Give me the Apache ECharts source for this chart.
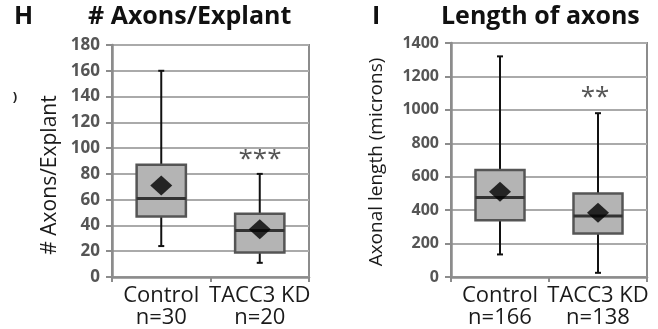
<!DOCTYPE html>
<html>
<head>
<meta charset="utf-8">
<script src="https://cdn.jsdelivr.net/npm/echarts@6/dist/echarts.min.js"></script>
<style>
  html, body { margin: 0; padding: 0; background: #fff; }
  #main { width: 658px; height: 329px; }
</style>
</head>
<body>
<div id="main"></div>
<script>
var categories = ['Control', 'TACC3 KD'];
var countsN = ['n=30', 'n=20'];
var lengthN = ['n=166', 'n=138'];
// [min, q1, median, q3, max]
var axonCountBoxes = [[24, 47, 61, 87, 160], [11, 19, 36, 49, 80]];
var axonCountMeans = [71, 37];
var axonLengthBoxes = [[135, 340, 475, 640, 1320], [25, 260, 365, 500, 980]];
var axonLengthMeans = [510, 385];
var countTicks = [0, 180, 20];
var lengthTicks = [0, 1400, 200];

var FONT = 'Open Sans';
var myChart = echarts.init(document.getElementById('main'));

function renderBox(params, api) {
    var x = api.value(0);
    var lo = api.coord([x, api.value(1)]);
    var q1 = api.coord([x, api.value(2)]);
    var med = api.coord([x, api.value(3)]);
    var q3 = api.coord([x, api.value(4)]);
    var hi = api.coord([x, api.value(5)]);
    var w = api.size([1, 0])[0] * 0.5;
    var cx = lo[0];
    var cap = 3;
    var lineStyle = { stroke: '#111', lineWidth: 2 };
    return {
        type: 'group',
        children: [
            { type: 'line', shape: { x1: cx, y1: hi[1], x2: cx, y2: q3[1] }, style: lineStyle },
            { type: 'line', shape: { x1: cx, y1: q1[1], x2: cx, y2: lo[1] }, style: lineStyle },
            { type: 'line', shape: { x1: cx - cap, y1: hi[1], x2: cx + cap, y2: hi[1] }, style: lineStyle },
            { type: 'line', shape: { x1: cx - cap, y1: lo[1], x2: cx + cap, y2: lo[1] }, style: lineStyle },
            { type: 'rect', shape: { x: cx - w / 2, y: q3[1], width: w, height: q1[1] - q3[1] },
              style: { fill: '#b4b4b4', stroke: '#555', lineWidth: 2.5 } },
            { type: 'line', shape: { x1: cx - w / 2, y1: med[1], x2: cx + w / 2, y2: med[1] },
              style: { stroke: '#333', lineWidth: 3 } }
        ]
    };
}

function boxData(boxes) {
    return boxes.map(function (b, i) { return [i].concat(b); });
}

function xAxisFor(idx, nLabels) {
    return {
        type: 'category', gridIndex: idx, data: categories,
        axisLine: { lineStyle: { color: '#8c8c8c', width: 2.5 } },
        axisTick: { show: true, length: 5, alignWithLabel: false, lineStyle: { color: '#8c8c8c', width: 2 } },
        axisLabel: {
            interval: 0, margin: 8, color: '#1a1a1a', fontFamily: FONT, fontSize: 22, lineHeight: 22,
            formatter: function (v, i) { return v + '\n' + nLabels[i]; }
        }
    };
}

function yAxisFor(idx, ticks, fontSize) {
    return {
        type: 'value', gridIndex: idx, min: ticks[0], max: ticks[1], interval: ticks[2],
        axisLine: { show: true, lineStyle: { color: '#8c8c8c', width: 2.5 } },
        axisTick: { show: true, length: 6, lineStyle: { color: '#8c8c8c', width: 2 } },
        axisLabel: { margin: 12, color: '#555', fontFamily: FONT, fontSize: fontSize, fontWeight: 'bold',
                     formatter: function (v) { return String(v); } },
        splitLine: { lineStyle: { color: '#aaa', width: 2 } }
    };
}

myChart.setOption({
    animation: false,
    grid: [
        { left: 112, right: 349, top: 45, bottom: 52, show: true, borderColor: '#8c8c8c', borderWidth: 2 },
        { left: 451, right: 11, top: 43, bottom: 51, show: true, borderColor: '#8c8c8c', borderWidth: 2 }
    ],
    xAxis: [xAxisFor(0, countsN), xAxisFor(1, lengthN)],
    yAxis: [yAxisFor(0, countTicks, 17), yAxisFor(1, lengthTicks, 16)],
    graphic: [
        { type: 'text', left: 14, top: 4, style: { text: 'H', font: 'bold 25px "Open Sans"', fill: '#111' } },
        { type: 'text', left: 88, top: 4, style: { text: '# Axons/Explant', font: 'bold 25px "Open Sans"', fill: '#111' } },
        { type: 'text', left: 372, top: 4, style: { text: 'I', font: 'bold 25px "Open Sans"', fill: '#111' } },
        { type: 'text', left: 441, top: 4, style: { text: 'Length of axons', font: 'bold 25px "Open Sans"', fill: '#111' } },
        { type: 'text', x: 50, y: 175, rotation: Math.PI / 2,
          style: { text: '# Axons/Explant', font: '21px "Open Sans"', fill: '#1a1a1a', align: 'center', verticalAlign: 'middle' } },
        { type: 'text', x: 377, y: 162, rotation: Math.PI / 2,
          style: { text: 'Axonal length (microns)', font: '19px "Open Sans"', fill: '#1a1a1a', align: 'center', verticalAlign: 'middle' } },
        { type: 'text', x: 15, y: 97, style: { text: ')', font: 'bold 13px "Open Sans"', fill: '#222', align: 'center', verticalAlign: 'middle' } },
        { type: 'text', x: 260, y: 160, style: { text: '***', font: '26px "Open Sans"', fill: '#555', align: 'center', verticalAlign: 'middle' } },
        { type: 'text', x: 595, y: 98, style: { text: '**', font: '26px "Open Sans"', fill: '#555', align: 'center', verticalAlign: 'middle' } }
    ],
    series: [
        { type: 'custom', xAxisIndex: 0, yAxisIndex: 0, renderItem: renderBox, data: boxData(axonCountBoxes), z: 3 },
        { type: 'scatter', xAxisIndex: 0, yAxisIndex: 0, symbol: 'diamond', symbolSize: [22, 20],
          itemStyle: { color: '#000' }, data: axonCountMeans.map(function (m, i) { return [i, m]; }), z: 5 },
        { type: 'custom', xAxisIndex: 1, yAxisIndex: 1, renderItem: renderBox, data: boxData(axonLengthBoxes), z: 3 },
        { type: 'scatter', xAxisIndex: 1, yAxisIndex: 1, symbol: 'diamond', symbolSize: [22, 20],
          itemStyle: { color: '#000' }, data: axonLengthMeans.map(function (m, i) { return [i, m]; }), z: 5 }
    ]
});
</script>
</body>
</html>
